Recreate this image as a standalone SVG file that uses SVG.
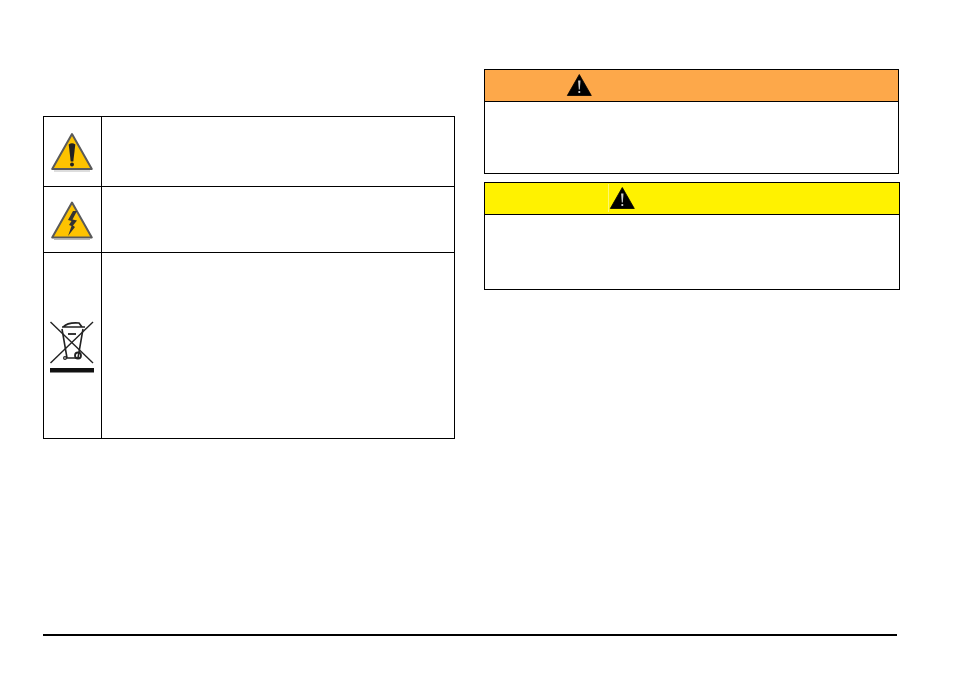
<svg xmlns="http://www.w3.org/2000/svg" width="954" height="673" viewBox="0 0 954 673">
<style>
.ln{stroke:#000;stroke-width:1;fill:none}
.box{stroke:#000;stroke-width:1;fill:#fff}
</style>
<defs>
<g id="warnTri">
<path d="M0,-10.500 L12,10.500 H-12 Z" fill="#000" stroke="#000" stroke-width="0.800" stroke-linejoin="round"/>
<path d="M-1.200,-4.500 H1.200 L0.500,4.500 H-0.500 Z" fill="#fff" opacity="0.800"/>
<rect x="-0.900" y="6" width="1.800" height="2" fill="#fff" opacity="0.800"/>
</g>
<g id="yellowTri">
<path d="M0,-17.500 L19.800,17.500 H-19.800 Z" fill="#fdc300" stroke="#5a5a5a" stroke-width="2" stroke-linejoin="round"/>
<path d="M-18,19.500 H18" stroke="#bbb" stroke-width="1.200"/>
</g>
</defs>
<rect width="954" height="673" fill="#fff"/>
<g id="symbol-table">
<rect class="box" x="43.500" y="116.500" width="411" height="322"/>
<path class="ln" d="M101.500,116.500 V438.500 M43.500,186.500 H454.500 M43.500,252.500 H454.500"/>
</g>
<g id="general-hazard-icon" transform="translate(72,151.500)">
<use href="#yellowTri"/>
<path d="M-3.300,-7 Q0,-9.500 3.300,-7 L1.300,10 H-1.300 Z" fill="#222"/>
<circle cx="0" cy="13" r="2" fill="#222"/>
</g>
<g id="electric-hazard-icon" transform="translate(72,220)">
<use href="#yellowTri"/>
<path d="M1,-9 L-4,0 L-0.500,1 L-3,5 L-0.500,6 L-4,16 L3,7 L1,5.500 L5,0.500 L0.500,-0.500 L5,-9 Z" fill="#333"/>
</g>
<g id="weee-icon" stroke="#222" fill="none">
<path d="M50.500,322 L93,363" stroke-width="1.400"/>
<path d="M93,322 L50.500,363" stroke-width="1.400"/>
<path d="M62,327 H85 M63,327 Q68,322 79,323 L82,327" stroke-width="1.700"/>
<path d="M62,329 L67,358 H78 L83,329" stroke-width="1.600"/>
<path d="M68,334 H76" stroke-width="1.800"/>
<circle cx="78" cy="355.500" r="3" stroke-width="1.800"/>
<circle cx="65" cy="358" r="1.400" stroke-width="1.200"/>
<rect x="50" y="368" width="44" height="4.500" fill="#111" stroke="none"/>
</g>
<g id="warning-box">
<rect x="485" y="70" width="413.500" height="32" fill="#fda84a"/>
<rect x="484.500" y="69.500" width="414" height="104" fill="none" stroke="#000"/>
<path class="ln" d="M484.500,101.500 H898.500"/>
<use href="#warnTri" x="579.300" y="85"/>
</g>
<g id="caution-box">
<rect x="485" y="183" width="414.500" height="31.500" fill="#fff200"/>
<rect x="484.500" y="182.500" width="415" height="107" fill="none" stroke="#000"/>
<path class="ln" d="M484.500,214.500 H899.500"/>
<path d="M608.500,184 V212" stroke="#fff8a0" stroke-width="0.700"/>
<use href="#warnTri" x="622.300" y="198"/>
</g>
<g id="footer-rule">
<rect x="43" y="634" width="854" height="2" fill="#000"/>
</g>
</svg>
